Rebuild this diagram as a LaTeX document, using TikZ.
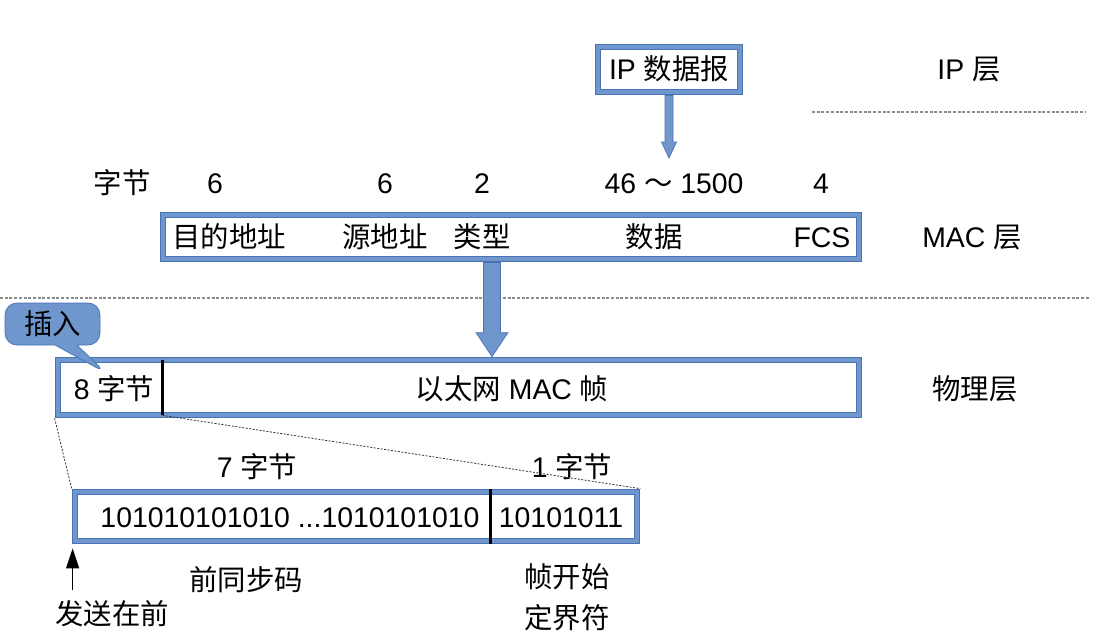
\documentclass[tikz,border=0pt]{standalone}
\usepackage{fontspec}
\setmainfont{Liberation Sans}
\newfontfamily\cjk{Noto Sans CJK SC}
\newcommand{\hz}[1]{{\cjk #1}}
\usetikzlibrary{calc,shapes.callouts,arrows.meta}
\definecolor{ltb}{HTML}{6F97CE}
\definecolor{dkb}{HTML}{4874B4}
\tikzset{
 lbl/.style={inner sep=0pt, text height=20.7pt, text depth=0pt, font=\fontsize{28.4}{32}\selectfont},
 frame/.style={lbl, draw=dkb, double=ltb, double distance=4.6pt, line width=0.75pt, fill=white},
 blockarrow/.style={fill=ltb, draw=dkb, line width=0.75pt, line join=miter},
 divider/.style={line width=3pt, black},
 zoomline/.style={draw=black!80, line width=0.8pt, dash pattern=on 2pt off 1.5pt},
 sepline/.style={draw=gray!90, line width=1.5pt, dash pattern=on 3pt off 1.7pt},
 uparrow/.style={-{Triangle[width=13pt,length=20pt]}, line width=1pt, black},
 bubble/.style={lbl, rectangle callout, fill=ltb, draw=dkb, line width=0.75pt, rounded corners=12pt, callout pointer width=22pt, minimum width=95pt, minimum height=42pt}
}
\begin{document}
\begin{tikzpicture}[x=1pt, y=-1pt]
\useasboundingbox (0,0) rectangle (1110,643);

% separator lines
\draw[sepline] (812,112) -- (1085,112);
\draw[sepline] (0,298) -- (1090,298);

% IP layer
\node[frame, minimum width=142pt, minimum height=45pt] (ip) at (669,69.5) {IP \hz{数据报}};
\node[lbl] (iplayer) at (969,69) {IP \hz{层}};

% byte row
\node[lbl] (bytes) at (122,183) {\hz{字节}};
\node[lbl] (b1) at (215,183) {6};
\node[lbl] (b2) at (385,183) {6};
\node[lbl] (b3) at (482,183) {2};
\node[lbl] (b4) at (674,183) {46 \hz{～} 1500};
\node[lbl] (b5) at (821,183) {4};

% thin arrow IP -> MAC
\coordinate (iptip) at (669,158);
\draw[blockarrow] ($(ip.south)+(-4,3)$) -- ($(iptip)+(-4,-16)$) -- ($(iptip)+(-7.5,-16)$) -- (iptip)
  -- ($(iptip)+(7.5,-16)$) -- ($(iptip)+(4,-16)$) -- ($(ip.south)+(4,3)$) -- cycle;

% MAC layer
\node[frame, minimum width=696pt, minimum height=44pt] (mac) at (511,237) {};
\node[lbl] (m1) at (229,237) {\hz{目的地址}};
\node[lbl] (m2) at (385,237) {\hz{源地址}};
\node[lbl] (m3) at (482,237) {\hz{类型}};
\node[lbl] (m4) at (654,237) {\hz{数据}};
\node[lbl] (m5) at (822,237) {FCS};
\node[lbl] (maclayer) at (972,237) {MAC \hz{层}};

% physical layer
\node[frame, minimum width=801pt, minimum height=55pt] (phy) at (458.5,387.5) {};
\coordinate (bigx) at (492,0);
\coordinate (bigtop) at ($(bigx |- mac.south)+(0,3)$);
\coordinate (bigtip) at ($(bigx |- phy.north)+(0,-3)$);
\draw[blockarrow] ($(bigtop)+(-8.5,0)$) -- ($(bigtip)+(-8.5,-24)$) -- ($(bigtip)+(-16,-24)$) -- (bigtip)
  -- ($(bigtip)+(16,-24)$) -- ($(bigtip)+(8.5,-24)$) -- ($(bigtop)+(8.5,0)$) -- cycle;
\coordinate (d1t) at ($(phy.north west)+(105,0)$);
\coordinate (d1b) at ($(phy.south west)+(105,0)$);
\draw[divider] (d1t) -- (d1b);
\node[lbl] (p1) at (114,389) {8 \hz{字节}};
\node[lbl] (p2) at (512,389) {\hz{以太网} MAC \hz{帧}};
\node[lbl] (phylayer) at (975,389) {\hz{物理层}};

% callout
\node[bubble, callout absolute pointer={($(phy.north west)+(48,13)$)}] (ins) at (52.5,324) {\hz{插入}};

% preamble
\node[lbl] (s7) at (257,467) {7 \hz{字节}};
\node[lbl] (s1) at (572,467) {1 \hz{字节}};
\node[frame, minimum width=562pt, minimum height=49pt] (pre) at (356,516.5) {};
\coordinate (d2t) at ($(pre.north west)+(416,-3)$);
\coordinate (d2b) at ($(pre.south west)+(416,3)$);
\draw[divider, line width=2.6pt] (d2t) -- (d2b);
\node[lbl] (bits1) at (290,517) {101010101010 ...1010101010};
\node[lbl] (bits2) at (561,517) {10101011};

% zoom lines
\draw[zoomline] ($(phy.south west)+(-3,3)$) -- ($(pre.north west)+(-3,-3)$);
\draw[zoomline] (d1b) -- ($(pre.north east)+(3,-3)$);

% bottom labels
\node[lbl] (pream) at (246,580) {\hz{前同步码}};
\node[lbl] (sfd1) at (567,577) {\hz{帧开始}};
\node[lbl] (sfd2) at (567,618) {\hz{定界符}};
\node[lbl] (send) at (112,614) {\hz{发送在前}};
\draw[uparrow] ($(pre.south west)+(-2,49)$) -- ($(pre.south west)+(-2,7)$);
\end{tikzpicture}
\end{document}
